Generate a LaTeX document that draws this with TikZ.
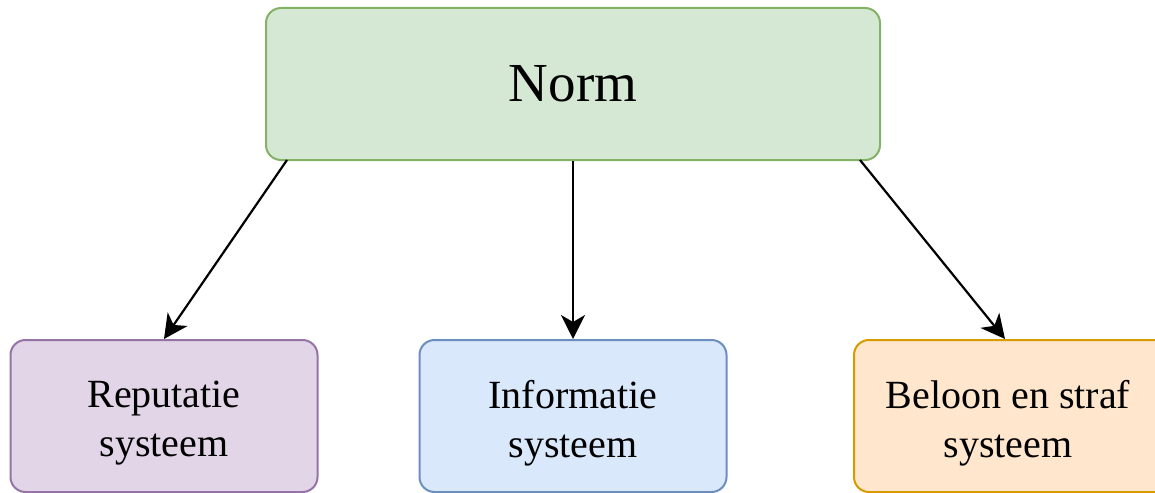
\documentclass[tikz,border=0pt]{standalone}
\usepackage{fontspec}
\setmainfont{Liberation Serif}
\usetikzlibrary{arrows.meta}
\definecolor{gfill}{HTML}{D5E8D4}\definecolor{gline}{HTML}{82B366}
\definecolor{pfill}{HTML}{E1D5E7}\definecolor{pline}{HTML}{9673A6}
\definecolor{bfill}{HTML}{DAE8FC}\definecolor{bline}{HTML}{6C8EBF}
\definecolor{ofill}{HTML}{FFE6CC}\definecolor{oline}{HTML}{D79B00}
\tikzset{
  box/.style={draw, line width=2pt, rounded corners=15pt, minimum width=307pt, minimum height=152pt, inner sep=0pt},
  txt/.style={inner sep=0pt, align=center, font=\fontsize{40}{49}\selectfont},
  conn/.style={line width=2.2pt, -{Stealth[length=24pt,width=24pt,inset=7pt]}}
}
\begin{document}
\begin{tikzpicture}[x=1pt,y=-1pt]
\useasboundingbox (0,0) rectangle (1155,492);
\node[box, fill=gfill, draw=gline, minimum width=614pt, align=center, font=\fontsize{55}{66}\selectfont] (norm) at (573,84) {Norm};
\node[box, fill=pfill, draw=pline] (rep) at (164,416) {};
\node[box, fill=bfill, draw=bline] (inf) at (573,416) {};
\node[box, fill=ofill, draw=oline, minimum width=330pt] (bel) at (1019,416) {};
\node[txt] (rept) at ([yshift=-7pt]rep.center) {Reputatie\\systeem};
\node[txt] (inft) at ([yshift=-7pt]inf.center) {Informatie\\systeem};
\node[txt] (belt) at ([xshift=-11pt,yshift=-7pt]bel.center) {Beloon en straf\\systeem};
\coordinate (s1) at (287,160);
\coordinate (s3) at (860,160);
\draw[conn] (s1) -- (rep.north);
\draw[conn] (norm.south) -- (inf.north);
\draw[conn] (s3) -- ([xshift=-14pt]bel.north);
\end{tikzpicture}
\end{document}
